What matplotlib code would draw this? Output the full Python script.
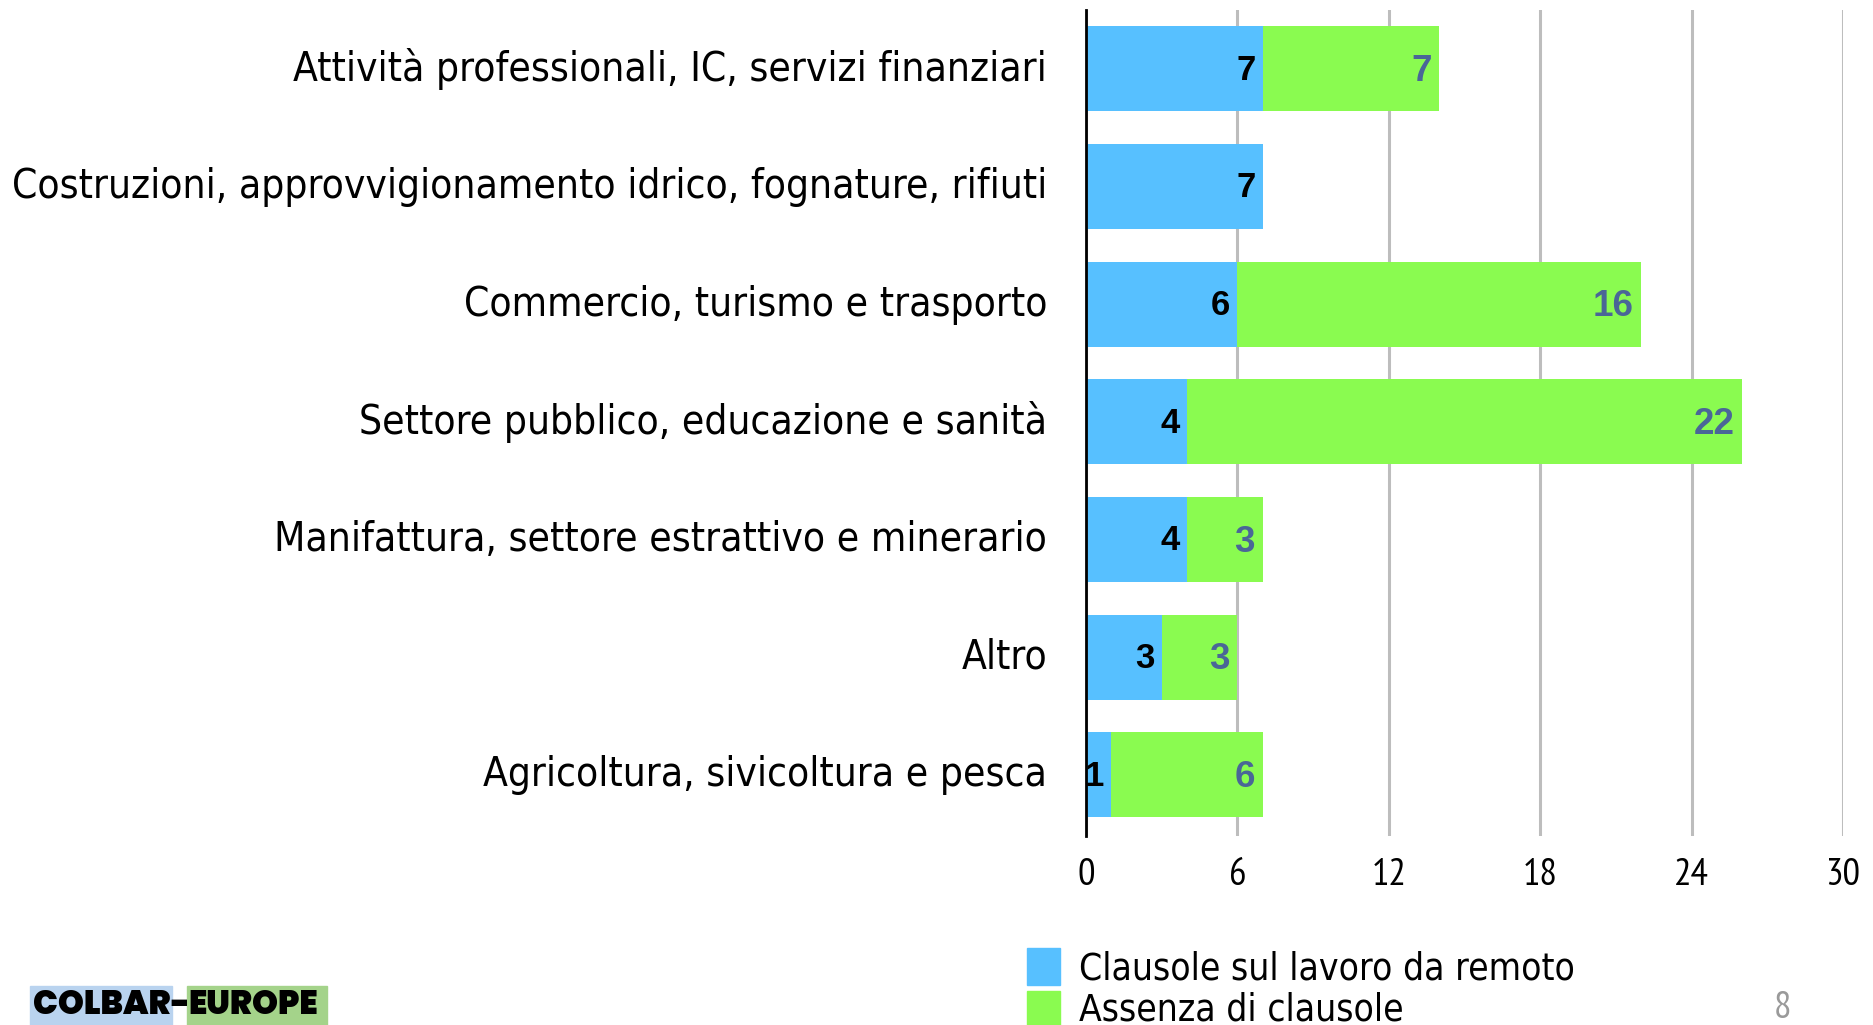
import matplotlib
matplotlib.use("Agg")
import matplotlib.pyplot as plt
import matplotlib.transforms as mtransforms
from matplotlib.patches import Rectangle
from matplotlib import font_manager

categories = [
    "Attività professionali, IC, servizi finanziari",
    "Costruzioni, approvvigionamento idrico, fognature, rifiuti",
    "Commercio, turismo e trasporto",
    "Settore pubblico, educazione e sanità",
    "Manifattura, settore estrattivo e minerario",
    "Altro",
    "Agricoltura, sivicoltura e pesca",
]
remote_clauses = [7, 7, 6, 4, 4, 3, 1]
no_clauses = [7, 0, 16, 22, 3, 3, 6]
series_names = ["Clausole sul lavoro da remoto", "Assenza di clausole"]
x_ticks = [0, 6, 12, 18, 24, 30]
page_number = "8"

BLUE = "#57C0FF"
GREEN = "#8AFB50"
GREEN_LABEL = "#4A6697"

fl = font_manager.fontManager.ttflist
avail = {f.name for f in fl}


def pick(cands, default="DejaVu Sans"):
    for c in cands:
        if c in avail:
            return c
    return default


has_dv_cond = any(f.name == "DejaVu Sans" and f.stretch == "condensed" and f.weight in (400, "normal")
                  for f in fl)
if has_dv_cond:
    LAB_FAM, LAB_STRETCH = "DejaVu Sans", "condensed"
else:
    LAB_FAM, LAB_STRETCH = pick(["Fira Sans Condensed", "Roboto Condensed",
                                 "IBM Plex Sans Condensed", "PT Sans Narrow"]), "normal"
NARROW = pick(["PT Sans Narrow", "Ubuntu Condensed", "Roboto Condensed"])
BOLD = pick(["Liberation Sans", "Arimo", "Arial"])


def heavy_family():
    for c in ["Montserrat", "Archivo Black", "Poppins", "Lato", "Roboto"]:
        ws = [f.weight for f in fl if f.name == c and f.style == "normal"]
        ws = [w for w in ws if isinstance(w, int)]
        if ws and max(ws) >= 800:
            return c, max(ws)
    return "DejaVu Sans", "bold"


LOGO, LOGO_W = heavy_family()

W, H, DPI = 1873, 1025, 100
fig = plt.figure(figsize=(W / DPI, H / DPI), dpi=DPI)
renderer = fig.canvas.get_renderer()


def fit_size(text, family, target_px, base=30.0, weight="normal", stretch="normal"):
    t = fig.text(0, 0, text, family=family, fontsize=base, fontweight=weight,
                 fontstretch=stretch)
    w = t.get_window_extent(renderer).width
    t.remove()
    return base * target_px / w


LABEL_FS = fit_size(categories[1], LAB_FAM, 1034, stretch=LAB_STRETCH)
LEG_FS = fit_size(series_names[0], LAB_FAM, 495, stretch=LAB_STRETCH)
TICK_FS = fit_size("24", NARROW, 35)

ax = fig.add_axes([1086 / W, 1 - 836 / H, (1843 - 1086) / W, (836 - 10) / H])

y = list(range(len(categories)))
bh = 0.72
ax.barh(y, remote_clauses, height=bh, color=BLUE, zorder=3, label=series_names[0])
ax.barh(y, no_clauses, left=remote_clauses, height=bh, color=GREEN, zorder=3,
        label=series_names[1])

for i, (a, b) in enumerate(zip(remote_clauses, no_clauses)):
    ax.annotate(str(a), xy=(a, i), xytext=(-5, -1), textcoords="offset points",
                ha="right", va="center", fontsize=25, fontweight="bold",
                family=BOLD, color="black", zorder=4)
    if b > 0:
        ax.annotate(str(b), xy=(a + b, i), xytext=(-5.5, -2), textcoords="offset points",
                    ha="right", va="center", fontsize=26.5, fontweight="bold",
                    family=BOLD, color=GREEN_LABEL, zorder=4)

ax.set_xlim(0, 30)
ax.set_ylim(6.52, -0.5)
ax.set_xticks(x_ticks)
ax.set_xticklabels([str(t) for t in x_ticks], family=NARROW, fontsize=TICK_FS)
ax.set_yticks(y)
ax.set_yticklabels(categories, family=LAB_FAM, fontstretch=LAB_STRETCH, fontsize=LABEL_FS)
ax.tick_params(axis="y", length=0, pad=28)
ax.tick_params(axis="x", length=0, pad=16)
shift_up = mtransforms.ScaledTranslation(0, 4 / DPI, fig.dpi_scale_trans)
for lbl in ax.get_yticklabels():
    lbl.set_transform(lbl.get_transform() + shift_up)
ax.xaxis.grid(True, color="#BDBDBD", linewidth=2.2, zorder=0)
ax.set_axisbelow(True)
for s in ["top", "right", "bottom"]:
    ax.spines[s].set_visible(False)
ax.spines["left"].set_linewidth(2.0)
ax.spines["left"].set_color("black")
ax.spines["left"].set_zorder(5)

# legend drawn at bottom
fig.add_artist(Rectangle((1027 / W, 1 - 985 / H), 33 / W, 37 / H,
                         transform=fig.transFigure, color=BLUE))
fig.add_artist(Rectangle((1027 / W, 1 - 1028 / H), 33 / W, 37 / H,
                         transform=fig.transFigure, color=GREEN))
fig.text(1079 / W, 1 - 969 / H, series_names[0], family=LAB_FAM, fontstretch=LAB_STRETCH,
         fontsize=LEG_FS, va="center", ha="left")
fig.text(1079 / W, 1 - 1010 / H, series_names[1], family=LAB_FAM, fontstretch=LAB_STRETCH,
         fontsize=LEG_FS, va="center", ha="left")

# page number
fig.text(1783 / W, 1 - 1009 / H, page_number, family=NARROW, fontsize=TICK_FS,
         color="#9A9A9A", va="center", ha="center")

# logo
LOGO_FS = fit_size("COLBAR", LOGO, 138, weight=LOGO_W)
fig.add_artist(Rectangle((30 / W, 1 - 1025 / H), 142 / W, 39 / H,
                         transform=fig.transFigure, color="#B9D3EF"))
fig.add_artist(Rectangle((187 / W, 1 - 1025 / H), 140 / W, 39 / H,
                         transform=fig.transFigure, color="#A4D38A"))
fig.text(171 / W, 1 - 1006 / H, "COLBAR", family=LOGO, fontweight=LOGO_W,
         fontsize=LOGO_FS, va="center", ha="right")
fig.text(179.5 / W, 1 - 1006 / H, "-", family=LOGO, fontweight=LOGO_W,
         fontsize=LOGO_FS, va="center", ha="center")
fig.text(188 / W, 1 - 1006 / H, "EUROPE", family=LOGO, fontweight=LOGO_W,
         fontsize=LOGO_FS, va="center", ha="left")

fig.savefig("out.png", dpi=DPI)
